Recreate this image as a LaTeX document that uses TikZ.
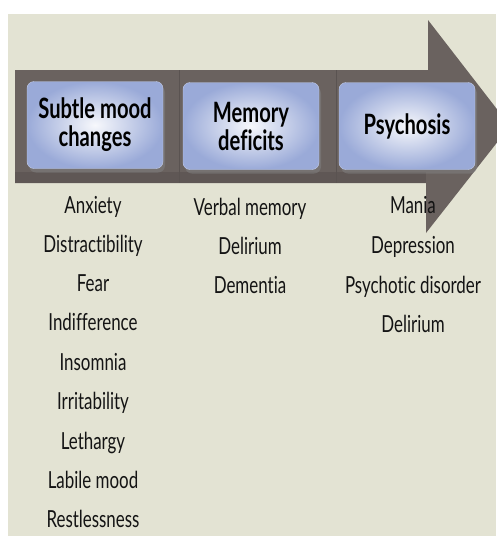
\documentclass[tikz,border=0pt]{standalone}
\usepackage{fontspec}
\setmainfont{Lato}[FakeStretch=0.72, Ligatures=NoCommon]
\usetikzlibrary{shadows}

\definecolor{bgbeige}{HTML}{E3E3D3}
\definecolor{arrowgray}{HTML}{6A625F}
\definecolor{boxblue}{HTML}{9AAAD8}

\begin{document}
\begin{tikzpicture}[x=1pt,y=-1pt,
  stage/.style={rounded corners=7pt, minimum width=136pt, minimum height=87pt,
    inner color=white!92!boxblue, outer color=boxblue, draw=boxblue!60!white, thin,
    drop shadow={shadow xshift=2pt, shadow yshift=-4pt, opacity=0.55},
    font=\fontsize{28}{28}\selectfont\bfseries, text=black, align=center, inner sep=0pt},
  item/.style={font=\fontsize{23.5}{23.5}\selectfont, text=black!92, inner sep=0pt,
    text height=17pt, text depth=5pt}]
\useasboundingbox (0,0) rectangle (496,536);
\fill[bgbeige] (8,14) rectangle (496,536);

% the big arrow
\fill[arrowgray] (15,70) -- (428,70) -- (428,20) -- (510,126) -- (426,233) -- (426,183) -- (15,183) -- cycle;
\fill[arrowgray!80!black, opacity=0.5] (15,172) rectangle (426,183);
\draw[arrowgray!85!black, line width=1pt] (179,70) -- (179,183);
\draw[arrowgray!85!black, line width=1pt] (336,70) -- (336,183);

% stages
\node[stage] (mood) at (95,125) {Subtle mood\\changes};
\node[stage] (memory) at (251,126) {Memory\\deficits};
\node[stage] (psychosis) at (407,126) {Psychosis};

% subtle mood changes
\node[item] (anxiety) at (93,207) {Anxiety};
\node[item] (distract) at (93,246) {Distractibility};
\node[item] (fear) at (93,285) {Fear};
\node[item] (indiff) at (93,324) {Indifference};
\node[item] (insomnia) at (93,364) {Insomnia};
\node[item] (irrit) at (93,403) {Irritability};
\node[item] (lethargy) at (93,443) {Lethargy};
\node[item] (labile) at (93,482) {Labile mood};
\node[item] (restless) at (93,521) {Restlessness};

% memory deficits
\node[item] (verbal) at (250,209) {Verbal memory};
\node[item] (delirium) at (250,248) {Delirium};
\node[item] (dementia) at (250,287) {Dementia};

% psychosis
\node[item] (mania) at (413,207) {Mania};
\node[item] (depression) at (413,247) {Depression};
\node[item] (psychotic) at (413,287) {Psychotic disorder};
\node[item] (delirium2) at (413,326) {Delirium};
\end{tikzpicture}
\end{document}
